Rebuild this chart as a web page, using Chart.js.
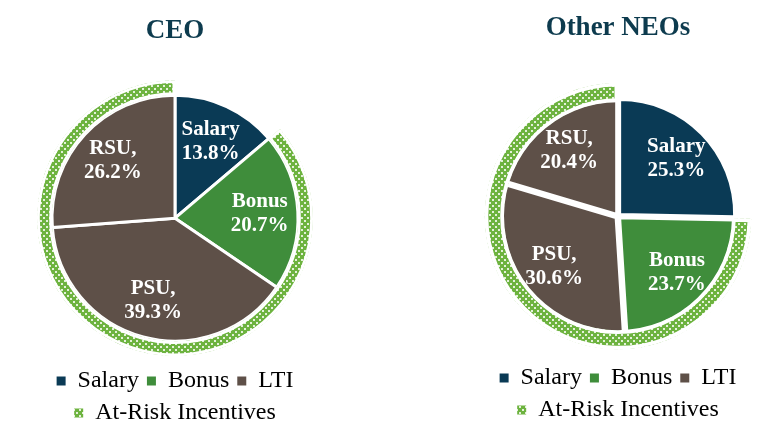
<!DOCTYPE html>
<html>
<head>
<meta charset="utf-8">
<script src="https://cdn.jsdelivr.net/npm/chart.js@4.4.1/dist/chart.umd.min.js"></script>
<style>
  body { margin: 0; background: #fff; }
  #wrap { position: relative; width: 783px; height: 448px; }
  .box { position: absolute; top: 0; width: 350px; height: 448px; }
</style>
</head>
<body>
<div id="wrap">
  <div class="box" style="left:0"><canvas id="ceoChart"></canvas></div>
  <div class="box" style="left:443px"><canvas id="neoChart"></canvas></div>
</div>
<script>
// slices, in clockwise order from 12 o'clock
const sliceNames = ['Salary', 'Bonus', 'PSU', 'RSU'];
const sliceGroups = ['Salary', 'Bonus', 'LTI', 'LTI'];
const ceoValues = [13.8, 20.7, 39.3, 26.2];
const neoValues = [25.3, 23.7, 30.6, 20.4];

// outer ring: fixed pay (not drawn) and at-risk pay
const ringNames = ['Fixed', 'At-Risk Incentives'];
const ceoRing = [13.8, 86.2];
const neoRing = [25.3, 74.7];

const legendNames = ['Salary', 'Bonus', 'LTI', 'At-Risk Incentives'];

const serif = "'Liberation Serif', 'Times New Roman', serif";
const groupColors = { Salary: '#0A3A55', Bonus: '#3F8D3B', LTI: '#5E5048' };

function makePattern() {
    const c = document.createElement('canvas');
    c.width = 6; c.height = 6;
    const g = c.getContext('2d');
    g.fillStyle = '#6DB33F';
    g.fillRect(0, 0, 6, 6);
    g.fillStyle = '#E4F1DA';
    g.fillRect(1, 1, 2, 2);
    g.fillRect(4, 4, 2, 2);
    return g.createPattern(c, 'repeat');
}
const ringPattern = makePattern();
const legendFills = [groupColors.Salary, groupColors.Bonus, groupColors.LTI, ringPattern];

// white "Name, xx.x%" labels inside the pie slices
const sliceLabels = {
    id: 'sliceLabels',
    afterDatasetsDraw(chart) {
        const meta = chart.getDatasetMeta(1);
        const values = chart.data.datasets[1].data;
        const ctx = chart.ctx;
        ctx.save();
        ctx.fillStyle = '#fff';
        ctx.font = 'bold 21px ' + serif;
        ctx.textAlign = 'center';
        ctx.textBaseline = 'middle';
        meta.data.forEach((arc, i) => {
            const p = arc.getProps(['x', 'y', 'startAngle', 'endAngle', 'outerRadius']);
            const mid = (p.startAngle + p.endAngle) / 2;
            const d = p.outerRadius * 0.69 + (arc.options.offset || 0) / 4;
            const x = p.x + Math.cos(mid) * d;
            const y = p.y + Math.sin(mid) * d;
            const name = sliceNames[i] + (sliceGroups[i] === 'LTI' ? ',' : '');
            ctx.fillText(name, x, y - 12);
            ctx.fillText(values[i].toFixed(1) + '%', x, y + 12);
        });
        ctx.restore();
    }
};

function makeChart(id, title, values, ringValues, cfg) {
    return new Chart(document.getElementById(id), {
        type: 'pie',
        data: {
            labels: sliceNames,
            datasets: [
                {
                    label: ringNames[1],
                    data: ringValues,
                    weight: cfg.radius - cfg.split,
                    backgroundColor: ['rgba(0,0,0,0)', ringPattern],
                    borderColor: '#fff',
                    borderWidth: [0, cfg.ringBorder],
                    borderAlign: 'inner'
                },
                {
                    data: values,
                    weight: cfg.split,
                    backgroundColor: sliceGroups.map(g => groupColors[g]),
                    borderColor: '#fff',
                    borderWidth: cfg.pieBorder,
                    offset: cfg.explode
                }
            ]
        },
        options: {
            responsive: true,
            maintainAspectRatio: false,
            animation: false,
            events: [],
            radius: cfg.radius,
            layout: { padding: { bottom: cfg.padBottom } },
            plugins: {
                tooltip: { enabled: false },
                title: {
                    display: true,
                    text: title,
                    color: '#0D3B4E',
                    font: { family: serif, size: 27, weight: 'bold' },
                    padding: { top: cfg.titleTop, bottom: cfg.titleBottom }
                },
                legend: {
                    position: 'bottom',
                    labels: {
                        boxWidth: 9,
                        boxHeight: 9,
                        padding: 8,
                        color: '#595959',
                        font: { family: serif, size: 24 },
                        generateLabels: () => legendNames.map((t, i) => ({
                            text: t,
                            fillStyle: legendFills[i],
                            strokeStyle: 'rgba(0,0,0,0)',
                            lineWidth: 0,
                            hidden: false,
                            index: i
                        }))
                    }
                }
            }
        },
        plugins: [sliceLabels]
    });
}

makeChart('ceoChart', 'CEO', ceoValues, ceoRing, {
    radius: 138, split: 123, ringBorder: 2.5, pieBorder: 3, explode: 0,
    titleTop: 15, titleBottom: 28, padBottom: 13
});
makeChart('neoChart', 'Other NEOs', neoValues, neoRing, {
    radius: 133.5, split: 114, ringBorder: 3.5, pieBorder: 2, explode: 12,
    titleTop: 12, titleBottom: 30, padBottom: 16
});
</script>
</body>
</html>
